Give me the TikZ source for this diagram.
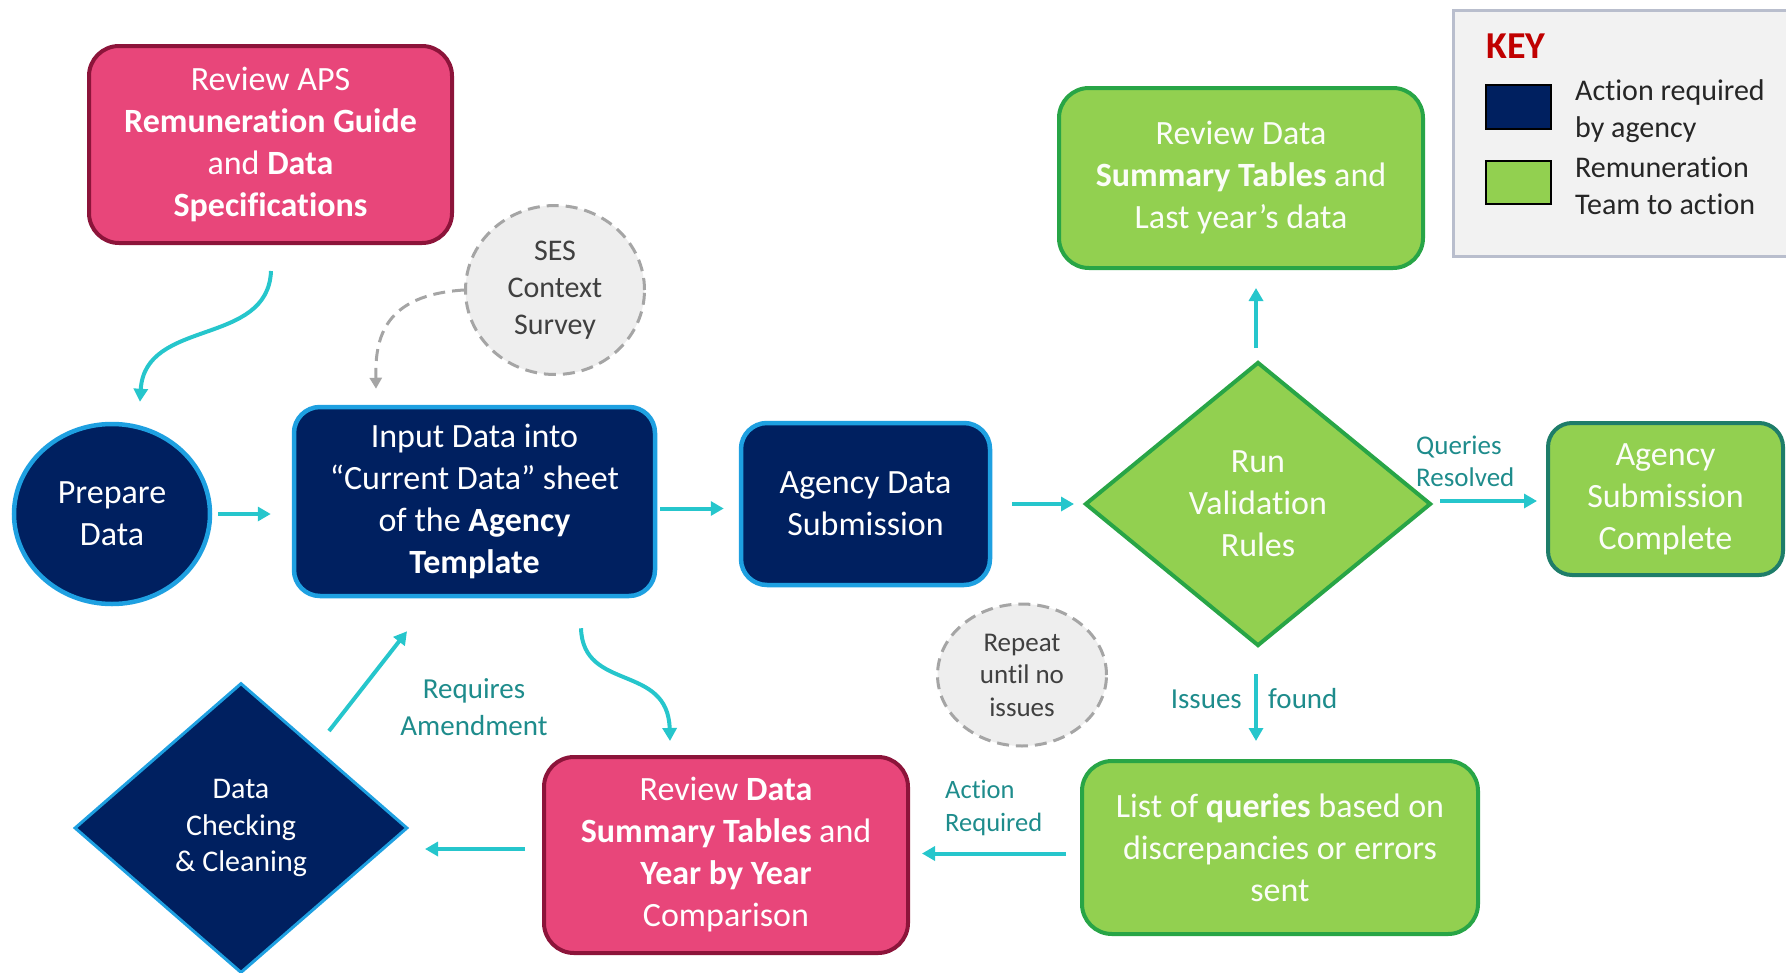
\documentclass[tikz,border=0pt]{standalone}
\usepackage{fontspec}
\setmainfont{Carlito}[Ligatures={TeX,NoCommon}]
\usetikzlibrary{shapes.geometric,arrows.meta}
\definecolor{navy}{RGB}{0,32,96}
\definecolor{navyedge}{RGB}{30,160,225}
\definecolor{pinkfill}{RGB}{232,70,122}
\definecolor{pinkedge}{RGB}{140,20,58}
\definecolor{greenfill}{RGB}{146,208,80}
\definecolor{greenedge}{RGB}{40,165,70}
\definecolor{tealedge}{RGB}{30,125,105}
\definecolor{turq}{RGB}{38,198,204}
\definecolor{labelteal}{RGB}{30,140,140}
\definecolor{grayfill}{RGB}{238,238,238}
\definecolor{grayedge}{RGB}{165,165,165}
\definecolor{graytext}{RGB}{64,64,64}
\definecolor{keyfill}{RGB}{242,242,242}
\definecolor{keyedge}{RGB}{185,190,205}
\definecolor{keyred}{RGB}{192,0,0}
\begin{document}
\begin{tikzpicture}[x=1pt,y=-1pt,
  boxtext/.style={align=center, text=white, font=\fontsize{34}{42}\selectfont, inner sep=0pt},
  navybox/.style={boxtext, rectangle, rounded corners=26pt, fill=navy, draw=navyedge, line width=4.5pt},
  navyoval/.style={boxtext, ellipse, fill=navy, draw=navyedge, line width=4.5pt},
  navydiamond/.style={boxtext, diamond, fill=navy, draw=navyedge, line width=3pt},
  pinkbox/.style={boxtext, rectangle, rounded corners=30pt, fill=pinkfill, draw=pinkedge, line width=4pt},
  greenbox/.style={boxtext, rectangle, rounded corners=30pt, fill=greenfill, draw=greenedge, line width=4pt, text=white!96!greenfill},
  greendiamond/.style={boxtext, diamond, fill=greenfill, draw=greenedge, line width=4pt, text=white!96!greenfill},
  note/.style={ellipse, fill=grayfill, draw=grayedge, dash pattern=on 12pt off 7pt, line width=3pt, align=center, text=graytext, inner sep=0pt},
  lbl/.style={text=labelteal, inner sep=0pt},
  flow/.style={draw=turq, line width=4pt, -{Triangle[length=13pt,width=14pt]}},
  dashflow/.style={draw=grayedge, line width=3pt, dash pattern=on 12pt off 7pt, -{Triangle[length=11pt,width=12pt]}},
]
\useasboundingbox (0,0) rectangle (1786,972);
\clip (0,0) rectangle (1786,972);

% key
\node[draw=keyedge, fill=keyfill, line width=3pt, minimum width=350pt, minimum height=246pt, anchor=north west, inner sep=0pt] (key) at (1452,9) {};
\node[font=\bfseries\fontsize{38}{40}\selectfont, text=keyred, anchor=west, inner sep=0pt] (keytitle) at (1486,46) {KEY};
\node[fill=navy, draw=black, line width=2pt, minimum width=65pt, minimum height=44pt, inner sep=0pt] (keynavy) at (1518.5,107) {};
\node[fill=greenfill, draw=black, line width=2pt, minimum width=65pt, minimum height=43pt, inner sep=0pt] (keygreen) at (1518.5,182.5) {};
\node[anchor=west, align=left, inner sep=0pt, font=\fontsize{30}{37.5}\selectfont, text=black!85] (keyt1) at (1575,111) {Action required\\by agency};
\node[anchor=west, align=left, inner sep=0pt, font=\fontsize{30}{37.5}\selectfont, text=black!85] (keyt2) at (1575,186) {Remuneration\\Team to action};

% nodes
\node[pinkbox, minimum width=363pt, minimum height=197pt] (aps) at (270.5,144.5) {Review APS\\\textbf{Remuneration Guide}\\and \textbf{Data}\\\textbf{Specifications}};
\node[note, minimum width=179pt, minimum height=169pt, font=\fontsize{30}{37}\selectfont] (ses) at (555,290) {SES\\Context\\Survey};
\node[navyoval, minimum width=196pt, minimum height=180pt] (prep) at (112,514) {Prepare\\Data};
\node[navybox, minimum width=361pt, minimum height=189pt] (input) at (474.5,501.5) {Input Data into\\“Current Data” sheet\\of the \textbf{Agency}\\\textbf{Template}};
\node[navybox, minimum width=249pt, minimum height=162pt] (ads) at (865.5,504) {Agency Data\\Submission};
\node[greendiamond, minimum width=346pt, minimum height=284pt] (run) at (1258,504) {Run\\Validation\\Rules};
\node[greenbox, minimum width=364pt, minimum height=180pt] (rvtop) at (1241,178) {Review Data\\\textbf{Summary Tables} and\\Last year’s data};
\node[greenbox, draw=tealedge, minimum width=235pt, minimum height=152pt, rounded corners=24pt] (done) at (1665.5,499) {Agency\\Submission\\Complete};
\node[note, minimum width=169pt, minimum height=142pt, font=\fontsize{27}{32.5}\selectfont] (rep) at (1022,675) {Repeat\\until no\\issues};
\node[greenbox, minimum width=396pt, minimum height=173pt] (list) at (1280,847.5) {List of \textbf{queries} based on\\discrepancies or errors\\sent};
\node[pinkbox, minimum width=364pt, minimum height=196pt] (rvy) at (726,855) {Review \textbf{Data}\\\textbf{Summary Tables} and\\\textbf{Year by Year}\\Comparison};
\node[navydiamond, minimum width=333pt, minimum height=290pt, font=\fontsize{30}{36.5}\selectfont] (dcc) at (241,828) {Data\\Checking\\\& Cleaning};

% labels
\node[lbl, anchor=west, align=left, font=\fontsize{27}{32}\selectfont] (qr) at (1416,461) {Queries\\Resolved};
\node[lbl, anchor=east, font=\fontsize{29}{35}\selectfont] (iss) at (1242,699) {Issues};
\node[lbl, anchor=west, font=\fontsize{29}{35}\selectfont] (fnd) at (1268,699) {found};
\node[lbl, anchor=west, align=left, font=\fontsize{26.5}{33}\selectfont] (ar) at (945,808) {Action\\Required};
\node[lbl, align=center, font=\fontsize{29}{36.5}\selectfont] (ra) at (474,707) {Requires\\Amendment};

% connectors
\draw[flow, shorten <=6pt, shorten >=21pt] (prep.east) -- (prep.east -| input.west);
\draw[flow, shorten <=3pt, shorten >=15pt] ([shift={(0,7)}]input.east) -- ([shift={(0,7)}]input.east -| ads.west);
\draw[flow, shorten <=20pt, shorten >=9pt] (ads.east) -- (ads.east -| run.west);
\draw[flow, shorten <=7pt, shorten >=9pt] ([shift={(0,-3)}]run.east) -- ([shift={(0,-3)}]run.east -| done.west);
\draw[flow, shorten <=12pt, shorten >=18pt] ([shift={(-2,0)}]run.north) -- ([shift={(-2,0)}]run.north |- rvtop.south);
\draw[flow, shorten <=26pt, shorten >=18pt] ([shift={(-2,0)}]run.south) -- ([shift={(-2,0)}]run.south |- list.north);
\draw[flow, shorten <=14pt, shorten >=12pt] ([shift={(0,6)}]list.west) -- ([shift={(0,6)}]list.west -| rvy.east);
\draw[flow, shorten <=17pt, shorten >=16pt] ([shift={(0,-6)}]rvy.west) -- ([shift={(0,-6)}]rvy.west -| dcc.east);
\draw[flow] ([shift={(88,-97)}]dcc.center) -- ([shift={(-67.5,33)}]input.south);
\draw[flow] ([shift={(106.5,30)}]input.south) .. controls +(2,64) and +(-2,-78) .. ([shift={(-56,-14)}]rvy.north);
\draw[flow] ([shift={(0.5,26)}]aps.south) .. controls +(-3,76) and +(5,-84) .. ([shift={(28,-20)}]prep.north);
\draw[dashflow] (ses.west) .. controls +(-80,5) and +(-1,-51) .. ([shift={(-98.5,-16)}]input.north);
\end{tikzpicture}
\end{document}
